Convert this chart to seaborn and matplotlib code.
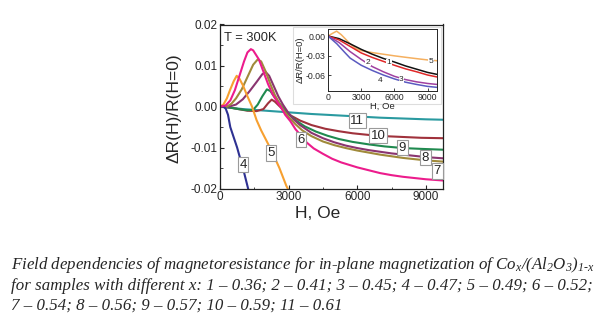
import numpy as np
import pandas as pd
import matplotlib
matplotlib.use("Agg")
import matplotlib.pyplot as plt
import seaborn as sns

# ---------------- data ----------------
main_labels = ["11", "10", "9", "8", "7", "5", "4", "6"]
main_colors = {"4": "#2e3192", "5": "#f7a030", "6": "#ec1c8c", "7": "#a08a3a",
               "8": "#8a3570", "9": "#1f8a4f", "10": "#a0323c", "11": "#2a9aa0"}

h4 = [0, 150, 250, 350, 450, 600, 750, 900, 1050, 1230, 1300]
r4 = [0, 0, -0.0005, -0.002, -0.005, -0.0075, -0.0100, -0.013, -0.016, -0.020, -0.0215]

h5 = [0, 150, 300, 450, 600, 730, 850, 1000, 1200, 1400, 1600, 1800, 2050, 2300, 2600, 2900, 3100]
r5 = [0, 0.0005, 0.002, 0.0042, 0.0062, 0.0075, 0.0068, 0.0052, 0.0025, 0.0, -0.0033, -0.0058,
      -0.0085, -0.0113, -0.0150, -0.0193, -0.0215]

h6 = [0, 250, 450, 650, 850, 1050, 1200, 1350, 1450, 1700, 1900, 2100, 2300, 2500, 2650, 2850,
      3070, 3300, 3500, 3800, 4100, 4500, 4900, 5300, 6000, 6500, 7000, 7500, 8000, 8500, 9000, 9750]
r6 = [0, 0.0003, 0.0015, 0.004, 0.0075, 0.011, 0.0132, 0.014, 0.0137, 0.0115, 0.0085, 0.0055,
      0.003, 0.0012, 0.0, -0.002, -0.0035, -0.0055, -0.0068, -0.0088, -0.0102, -0.0115, -0.0127,
      -0.0136, -0.0148, -0.0155, -0.0162, -0.0167, -0.0171, -0.0174, -0.0177, -0.0180]

h7 = [0, 300, 500, 700, 950, 1200, 1450, 1650, 1800, 2000, 2200, 2400, 2600, 2800, 3000, 3300,
      3600, 4000, 4500, 5000, 5500, 6000, 6500, 7000, 7500, 8000, 8500, 9000, 9750]
r7 = [0, 0, 0.0007, 0.002, 0.0042, 0.0072, 0.0102, 0.0115, 0.011, 0.0085, 0.0055, 0.0028, 0.0008,
      -0.001, -0.0025, -0.0043, -0.0058, -0.0072, -0.0085, -0.0094, -0.0101, -0.0107, -0.0112,
      -0.0117, -0.0121, -0.0125, -0.0128, -0.0131, -0.0134]

h8 = [0, 400, 700, 1000, 1300, 1600, 1850, 2000, 2150, 2350, 2550, 2750, 2950, 3200, 3500, 4000,
      4500, 5000, 5500, 6000, 6500, 7000, 7500, 8000, 8500, 9000, 9750]
r8 = [0, 0, 0.0005, 0.0018, 0.0038, 0.006, 0.0079, 0.0084, 0.0075, 0.005, 0.0025, 0.0005, -0.0012,
      -0.003, -0.0045, -0.0064, -0.0077, -0.0087, -0.0095, -0.0101, -0.0106, -0.011, -0.0114,
      -0.0117, -0.012, -0.0123, -0.0126]

h9 = [0, 400, 800, 1200, 1450, 1650, 1850, 2050, 2200, 2400, 2600, 2800, 3000, 3300, 3700, 4200,
      4700, 5200, 5800, 6500, 7200, 8000, 8800, 9750]
r9 = [0, -0.0002, -0.0006, -0.0009, -0.0008, 0.0005, 0.0025, 0.0042, 0.0038, 0.0022, 0.0008,
      -0.0005, -0.0018, -0.0033, -0.0048, -0.0061, -0.0071, -0.0079, -0.0086, -0.0092, -0.0097,
      -0.0101, -0.0103, -0.0105]

h10 = [0, 400, 800, 1200, 1600, 1900, 2100, 2260, 2400, 2600, 2800, 3100, 3500, 4000, 4600, 5200,
       5800, 6500, 7200, 8000, 8800, 9750]
r10 = [0, -0.0002, -0.0006, -0.001, -0.0011, -0.0006, 0.0008, 0.0017, 0.0012, 0.0001, -0.001,
       -0.0022, -0.0034, -0.0045, -0.0054, -0.006, -0.0065, -0.0069, -0.0072, -0.0074, -0.0076, -0.0077]

h11 = [0, 500, 1000, 1500, 2000, 2500, 3000, 4000, 5000, 6000, 7000, 8000, 9000, 9750]
r11 = [0, -0.0003, -0.0006, -0.0008, -0.001, -0.0012, -0.0014, -0.0018, -0.0021, -0.0024,
       -0.0027, -0.0029, -0.0031, -0.0032]

main_h = {"4": h4, "5": h5, "6": h6, "7": h7, "8": h8, "9": h9, "10": h10, "11": h11}
main_r = {"4": r4, "5": r5, "6": r6, "7": r7, "8": r8, "9": r9, "10": r10, "11": r11}

# label positions (H, value) for the boxed curve numbers
lab_names = ["4", "5", "6", "7", "8", "9", "10", "11"]
lab_h = [1010, 2230, 3550, 9500, 8980, 7970, 6920, 6000]
lab_r = [-0.0142, -0.0113, -0.0081, -0.0157, -0.0125, -0.0100, -0.0071, -0.0034]

# inset data
ins_labels = ["5", "1", "2", "3", "4"]
ins_colors = {"1": "#111111", "2": "#e02828", "3": "#a040a0", "4": "#5a5ac0", "5": "#f5b060"}
ih5 = [0, 400, 780, 1200, 1600, 2000, 2500, 3000, 4000, 5000, 6000, 7000, 8000, 9000, 9850]
ir5 = [0, 0.004, 0.0075, 0.002, -0.005, -0.012, -0.019, -0.0225, -0.0255, -0.028, -0.0305,
       -0.0327, -0.0348, -0.0368, -0.038]
ih1 = [0, 1000, 2000, 3000, 4000, 5000, 6000, 7000, 8000, 9000, 9850]
ir1 = [0, -0.004, -0.012, -0.0205, -0.028, -0.0345, -0.040, -0.046, -0.051, -0.056, -0.059]
ih2 = [0, 1000, 2000, 3000, 4000, 5000, 6000, 7000, 8000, 9000, 9850]
ir2 = [0, -0.006, -0.016, -0.026, -0.033, -0.039, -0.045, -0.0505, -0.055, -0.060, -0.063]
ih3 = [0, 1000, 2000, 3000, 4000, 5000, 6000, 7000, 8000, 9000, 9850]
ir3 = [0, -0.010, -0.024, -0.036, -0.047, -0.055, -0.062, -0.067, -0.0705, -0.073, -0.0745]
ih4 = [0, 800, 1500, 2000, 3000, 4000, 5000, 6000, 7000, 8000, 9000, 9850]
ir4 = [0, -0.012, -0.025, -0.034, -0.045, -0.053, -0.060, -0.066, -0.071, -0.0745, -0.0775, -0.079]
ins_h = {"1": ih1, "2": ih2, "3": ih3, "4": ih4, "5": ih5}
ins_r = {"1": ir1, "2": ir2, "3": ir3, "4": ir4, "5": ir5}
ins_lab_names = ["1", "2", "3", "4", "5"]
ins_lab_h = [5500, 3630, 6640, 4700, 9300]
ins_lab_r = [-0.041, -0.040, -0.0665, -0.069, -0.0385]

main_xticks = [0, 3000, 6000, 9000]
main_yticks = [-0.02, -0.01, 0.00, 0.01, 0.02]
ins_xticks = [0, 3000, 6000, 9000]
ins_yticks = [-0.06, -0.03, 0.00]

caption = ["Field dependencies of magnetoresistance for in-plane magnetization of "
           r"Co$_{x}$/(Al$_{2}$O$_{3}$)$_{1\text{-}x}$",
           "for samples with different x: 1 – 0.36; 2 – 0.41; 3 – 0.45; 4 – 0.47; 5 – 0.49; 6 – 0.52;",
           "7 – 0.54; 8 – 0.56; 9 – 0.57; 10 – 0.59; 11 – 0.61"]

# ---------------- build frames ----------------
rows = []
for k in main_labels:
    for h, r in zip(main_h[k], main_r[k]):
        rows.append({"H": h, "R": r, "curve": k})
df_main = pd.DataFrame(rows)
rows = []
for k in ins_labels:
    for h, r in zip(ins_h[k], ins_r[k]):
        rows.append({"H": h, "R": r, "curve": k})
df_ins = pd.DataFrame(rows)

# ---------------- style ----------------
sns.set_style("ticks")
plt.rcParams["font.family"] = ["Liberation Sans", "DejaVu Sans"]
plt.rcParams["mathtext.fontset"] = "custom"
plt.rcParams["mathtext.rm"] = "Liberation Serif:italic"
plt.rcParams["mathtext.it"] = "Liberation Serif:italic"
plt.rcParams["xtick.direction"] = "in"
plt.rcParams["ytick.direction"] = "in"

fig = plt.figure(figsize=(6.08, 3.23), dpi=100)
fig.patch.set_facecolor("white")

ax = fig.add_axes([220 / 608, 1 - 188.7 / 323, 223 / 608, (188.7 - 24.5) / 323])
sns.lineplot(data=df_main, x="H", y="R", hue="curve", hue_order=main_labels,
             palette=main_colors, estimator=None, sort=False, legend=False,
             linewidth=1.5, ax=ax)
ax.set_xlim(0, 9750)
ax.set_ylim(-0.02, 0.02)
ax.set_xticks(main_xticks)
ax.set_yticks(main_yticks)
ax.set_xticklabels([str(t) for t in main_xticks], fontsize=8.5)
ax.set_yticklabels([f"{t:.2f}" for t in main_yticks], fontsize=8.5)
ax.xaxis.set_minor_locator(matplotlib.ticker.MultipleLocator(1500))
ax.yaxis.set_minor_locator(matplotlib.ticker.MultipleLocator(0.005))
ax.tick_params(which="major", length=3, width=0.8, pad=2)
ax.tick_params(which="minor", length=1.8, width=0.6)
for s in ax.spines.values():
    s.set_linewidth(0.9)
    s.set_color("#222222")
ax.set_xlabel("")
ax.set_ylabel("")
fig.text(174 / 608, 1 - 108 / 323, "ΔR(H)/R(H=0)", rotation=90, fontsize=12.5,
         ha="center", va="center")
fig.text(318 / 608, 1 - 213 / 323, "H, Oe", fontsize=12.5, ha="center", va="center")
ax.text(0.02, 0.92, "T = 300K", transform=ax.transAxes, fontsize=9.3, ha="left", va="center")

for n, h, r in zip(lab_names, lab_h, lab_r):
    ax.text(h, r, n, fontsize=9.5, ha="center", va="center", zorder=10,
            bbox=dict(boxstyle="square,pad=0.12", fc="white", ec="#9a9a9a", lw=0.8))

# inset background
bg = matplotlib.patches.Rectangle((293 / 608, 1 - 104 / 323), 148 / 608, 77 / 323,
                                  transform=fig.transFigure, facecolor="white",
                                  edgecolor="#dddddd", lw=0.8, zorder=5)
fig.patches.append(bg)

axi = fig.add_axes([328 / 608, 1 - 91 / 323, 109 / 608, 62 / 323])
axi.set_zorder(6)
sns.lineplot(data=df_ins, x="H", y="R", hue="curve", hue_order=ins_labels,
             palette=ins_colors, estimator=None, sort=False, legend=False,
             linewidth=1.1, ax=axi)
axi.set_xlim(0, 9850)
axi.set_ylim(-0.0846, 0.0108)
axi.set_xticks(ins_xticks)
axi.set_yticks(ins_yticks)
axi.set_xticklabels([str(t) for t in ins_xticks], fontsize=6.3)
axi.set_yticklabels([f"{t:.2f}" for t in ins_yticks], fontsize=6.3)
axi.tick_params(length=2, width=0.6, pad=1.5)
for s in axi.spines.values():
    s.set_linewidth(0.7)
axi.set_xlabel("H, Oe", fontsize=6.8, labelpad=0)
axi.set_ylabel("ΔR/R(H=0)", fontsize=6.8, labelpad=1)
for n, h, r in zip(ins_lab_names, ins_lab_h, ins_lab_r):
    axi.text(h, r, n, fontsize=6, ha="center", va="center", zorder=10,
             bbox=dict(boxstyle="square,pad=0.05", fc="white", ec="none"))

# caption
for i, line in enumerate(caption):
    fig.text(11 / 608, 1 - (265 + 20.5 * i) / 323, line, fontsize=12.2, ha="left", va="center",
             family="Liberation Serif", style="italic")

fig.savefig("out.png", dpi=100)
